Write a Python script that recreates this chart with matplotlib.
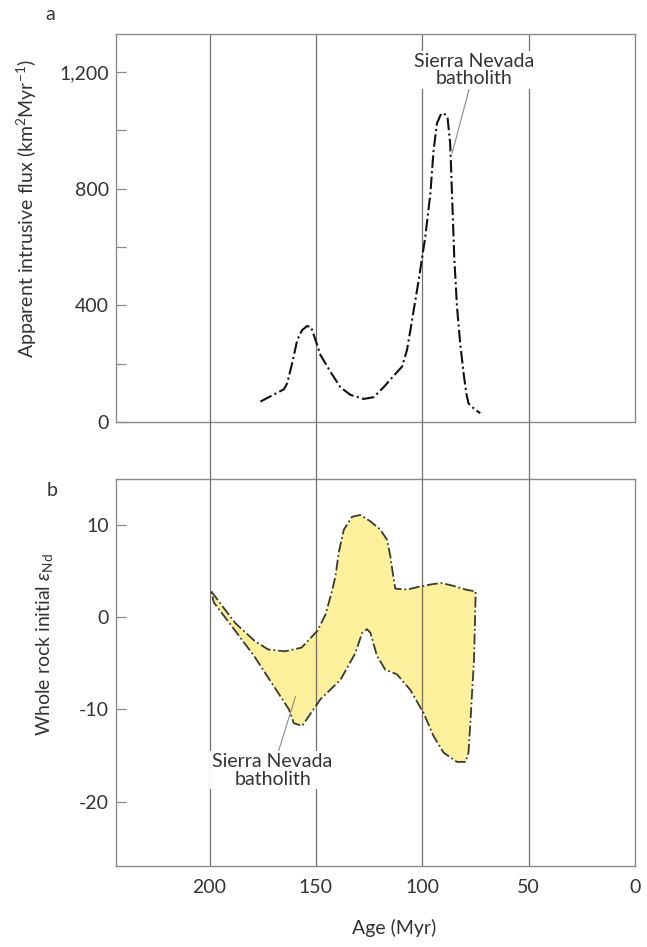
import matplotlib
matplotlib.use("Agg")
import matplotlib.pyplot as plt
from matplotlib.lines import Line2D
from matplotlib import transforms

plt.rcParams['font.family'] = ['Lato', 'DejaVu Sans']
plt.rcParams['mathtext.fontset'] = 'custom'
plt.rcParams['mathtext.rm'] = 'Lato'
plt.rcParams['mathtext.it'] = 'Lato:italic'
plt.rcParams['axes.unicode_minus'] = False

# panel a: apparent intrusive flux
age_flux = [176.1, 165.1, 163.5, 161.2, 158.8, 156.5, 154.1, 152.3, 150.2, 147.9,
            143.2, 138.5, 133.8, 127.6, 122.9, 118.2, 113.5, 109.5, 107.2, 105.6,
            101.7, 98.6, 96.2, 94.7, 93.1, 91.2, 89.7, 88.1, 86.9, 86.1,
            85.0, 83.7, 82.2, 80.6, 79.3, 78.3, 75.9, 72.8]
flux = [70, 112, 133, 201, 281, 315, 329, 325, 281, 230,
        172, 119, 93, 79, 85, 119, 158, 190, 247, 315,
        487, 635, 784, 932, 1024, 1056, 1058, 1041, 955, 795,
        567, 395, 270, 167, 98, 64, 47, 30]

# panel b: whole rock initial eps Nd envelope
upper_age = [199.2, 188.1, 178.7, 172.5, 164.6, 156.8, 149.4, 145.5, 142.5, 140.8,
             139.3, 136.9, 133.0, 129.1, 124.4, 119.7, 116.6, 115.0, 113.7, 112.7,
             107.2, 101.7, 95.0, 90.8, 85.3, 79.6, 74.9]
upper_eps = [2.8, -0.6, -2.6, -3.5, -3.7, -3.3, -1.5, 0.3, 2.8, 4.5,
             7.0, 9.5, 10.9, 11.1, 10.4, 9.5, 8.4, 6.6, 4.5, 3.1,
             3.0, 3.3, 3.6, 3.7, 3.4, 3.0, 2.8]
lower_age = [199.2, 198.0, 188.5, 179.1, 169.8, 162.7, 160.4, 156.5, 147.9, 138.5,
             131.5, 128.3, 126.0, 124.4, 121.3, 117.4, 111.9, 105.6, 99.4, 94.7,
             90.0, 83.7, 79.6, 78.3, 77.5, 75.7, 74.9]
lower_eps = [2.8, 1.6, -1.3, -4.2, -7.5, -10.0, -11.5, -11.8, -8.9, -6.8,
             -3.9, -1.7, -1.3, -1.7, -4.2, -5.7, -6.2, -7.9, -10.4, -12.9,
             -14.7, -15.7, -15.7, -14.7, -11.8, -4.6, 2.8]

grid_ages = [200, 150, 100, 50]
flux_ticks = [0, 400, 800, 1200]
flux_ticklabels = ['0', '400', '800', '1,200']
eps_ticks = [10, 0, -10, -20]
age_ticks = [200, 150, 100, 50, 0]

txt = '#333333'
gray = '#8a8a8a'
dash = (0, (6, 1.6, 1, 1.6))
fs = 14

fig = plt.figure(figsize=(6.47, 9.47), dpi=100)
ax1 = fig.add_axes([0.1793, 0.5544, 0.8022, 0.4097])
ax2 = fig.add_axes([0.1793, 0.0855, 0.8022, 0.4087])

for ax in (ax1, ax2):
    ax.set_facecolor('none')
    ax.set_xlim(244, 0)
    for s in ax.spines.values():
        s.set_color(gray)
        s.set_linewidth(1.0)
    for a in grid_ages:
        ax.axvline(a, color='#707070', lw=0.9, zorder=1.5)
    ax.tick_params(axis='y', direction='in', length=7, width=0.9, color=gray,
                   labelsize=fs, labelcolor=txt, pad=5)
    ax.tick_params(axis='x', length=0, labelsize=fs, labelcolor=txt, pad=9)

# panel a
ax1.set_ylim(0, 1330)
ax1.plot(age_flux, flux, color='#111111', lw=1.5, linestyle=dash, zorder=2)
ax1.set_yticks(flux_ticks)
ax1.set_yticklabels(flux_ticklabels)
ax1.set_yticks([200, 600, 1000], minor=True)
ax1.tick_params(axis='y', which='minor', direction='in', length=7, width=0.9, color=gray)
ax1.set_xticks([])
ax1.annotate('Sierra Nevada\nbatholith', xy=(86, 921), xytext=(75.6, 1207),
             ha='center', va='center', fontsize=fs, color=txt, linespacing=1.05,
             bbox=dict(boxstyle='square,pad=0.1', fc='white', ec='none'),
             arrowprops=dict(arrowstyle='-', color=gray, lw=0.8, shrinkA=0, shrinkB=0),
             zorder=3)

# panel b
ax2.set_ylim(-27, 15)
poly_age = upper_age + lower_age[::-1]
poly_eps = upper_eps + lower_eps[::-1]
ax2.fill(poly_age, poly_eps, color='#fcf09c', lw=0, zorder=1)
ax2.plot(poly_age, poly_eps, color='#3a3a30', lw=1.3, linestyle=dash, zorder=2)
ax2.set_yticks(eps_ticks)
ax2.set_xticks(age_ticks)
ax2.annotate('Sierra Nevada\nbatholith', xy=(159.6, -8.6), xytext=(170.4, -16.6),
             ha='center', va='center', fontsize=fs, color=txt, linespacing=1.05,
             bbox=dict(boxstyle='square,pad=0.1', fc='white', ec='none'),
             arrowprops=dict(arrowstyle='-', color=gray, lw=0.8, shrinkA=0, shrinkB=0),
             zorder=3)

# grid lines continuing through the gap between the panels
trans = transforms.blended_transform_factory(ax2.transData, fig.transFigure)
for a in grid_ages:
    fig.add_artist(Line2D([a, a], [0.4942, 0.5544], transform=trans,
                          color='#707070', lw=0.9))

fig.text(27 / 647, 1 - 209 / 947, 'Apparent intrusive flux (km$^2$Myr$^{-1}$)',
         rotation=90, ha='center', va='center', fontsize=fs, color=txt)
fig.text(45 / 647, 1 - 645 / 947, r'Whole rock initial $\mathit{\varepsilon}_{\mathrm{Nd}}$',
         rotation=90, ha='center', va='center', fontsize=fs, color=txt)
fig.text(394 / 647, 1 - 928 / 947, 'Age (Myr)', ha='center', va='center',
         fontsize=fs, color=txt)
fig.text(50 / 647, 1 - 14 / 947, 'a', ha='center', va='center', fontsize=fs, color=txt)
fig.text(52 / 647, 1 - 490 / 947, 'b', ha='center', va='center', fontsize=fs, color=txt)

fig.savefig('out.png', dpi=100)
